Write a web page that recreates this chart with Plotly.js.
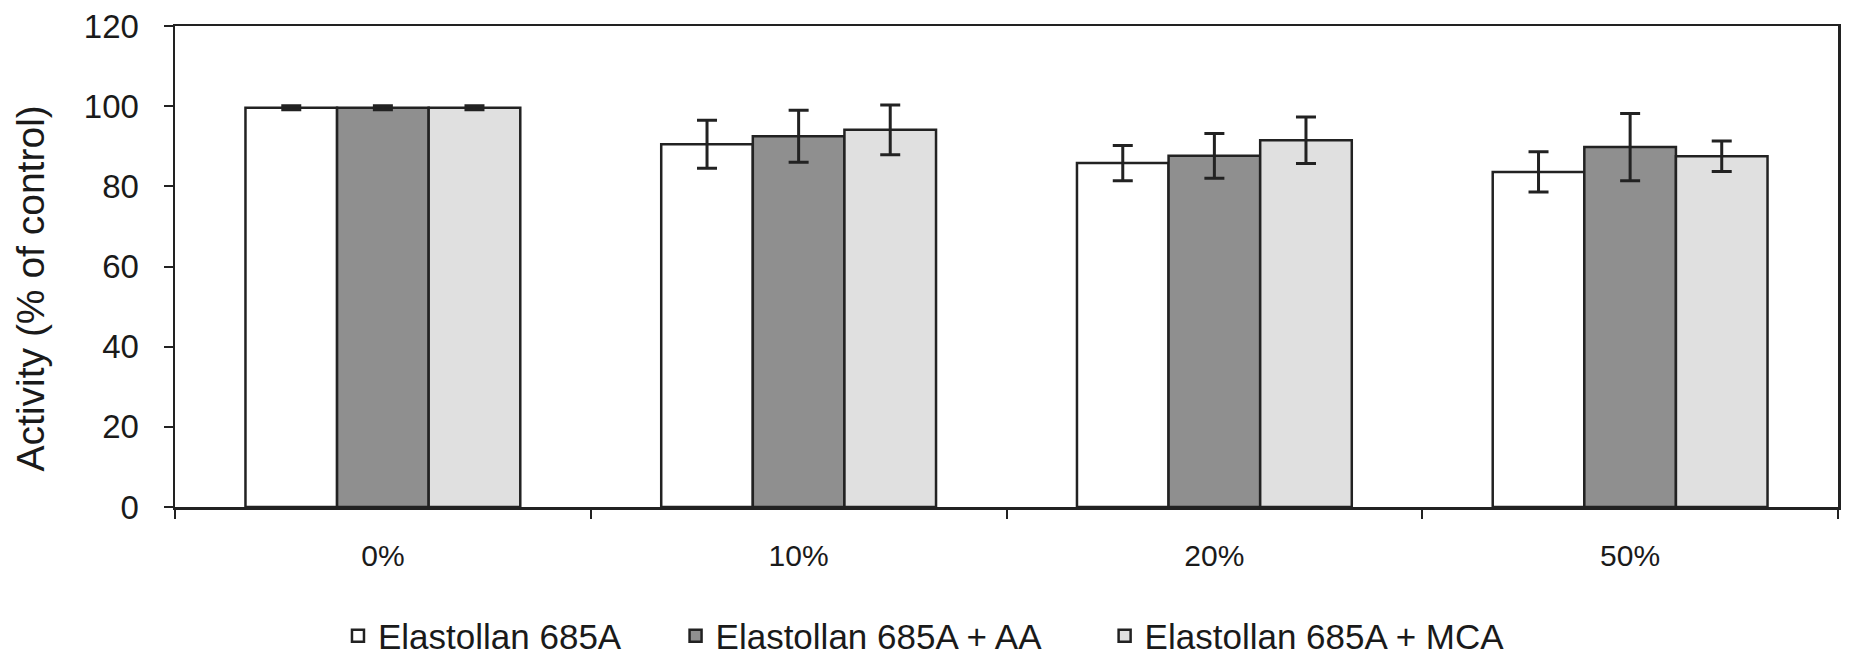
<!DOCTYPE html>
<html>
<head>
<meta charset="utf-8">
<script src="https://cdn.plot.ly/plotly-3.0.1.min.js"></script>
<style>html,body{margin:0;padding:0;background:#fff;}#chart{width:1849px;height:662px;}</style>
</head>
<body>
<div id="chart"></div>
<script>
const categories = ["0%", "10%", "20%", "50%"];
const seriesNames = ["Elastollan 685A", "Elastollan 685A + AA", "Elastollan 685A + MCA"];
const valuesPlain = [99.6, 90.5, 85.8, 83.6];
const errorsPlain = [0.5, 6.0, 4.4, 5.0];
const valuesAA = [99.6, 92.5, 87.6, 89.8];
const errorsAA = [0.5, 6.5, 5.6, 8.4];
const valuesMCA = [99.6, 94.1, 91.5, 87.5];
const errorsMCA = [0.5, 6.2, 5.8, 3.8];
const yTicks = [0, 20, 40, 60, 80, 100, 120];
const yTitle = "Activity (% of control)";

const fills = ["#ffffff", "#8f8f8f", "#e0e0e0"];
const vals = [valuesPlain, valuesAA, valuesMCA];
const errs = [errorsPlain, errorsAA, errorsMCA];
const legendIds = ["legend", "legend2", "legend3"];

const traces = seriesNames.map((name, i) => ({
  type: "bar",
  name: name,
  x: categories,
  y: vals[i],
  legend: legendIds[i],
  marker: {color: fills[i], line: {color: "#222222", width: 2.5}},
  error_y: {type: "data", array: errs[i], visible: true, color: "#222222", thickness: 3, width: 10}
}));

const legFont = {family: "Liberation Sans, Arial, sans-serif", size: 35, color: "#1a1a1a"};
const legBase = {orientation: "h", yanchor: "middle", y: -0.268, xanchor: "left", font: legFont, bgcolor: "rgba(0,0,0,0)", borderwidth: 0};

const layout = {
  width: 1849, height: 662,
  margin: {l: 175, r: 11, t: 26, b: 155, autoexpand: false},
  paper_bgcolor: "#ffffff", plot_bgcolor: "#ffffff",
  font: {family: "Liberation Sans, Arial, sans-serif", color: "#1a1a1a"},
  barmode: "group", bargap: 0.339, bargroupgap: 0,
  showlegend: true,
  legend: Object.assign({}, legBase, {x: 0.098}),
  legend2: Object.assign({}, legBase, {x: 0.301}),
  legend3: Object.assign({}, legBase, {x: 0.559}),
  xaxis: {
    type: "category", tickson: "boundaries", ticks: "outside", ticklen: 9, tickwidth: 2, tickcolor: "#222222",
    showline: true, linecolor: "#222222", linewidth: 2.5, mirror: true, showgrid: false, zeroline: false,
    tickfont: {size: 30, color: "#1a1a1a"}, ticklabelstandoff: 20
  },
  yaxis: {
    range: [0, 120], tickvals: yTicks, ticktext: yTicks.map(String), ticks: "outside", ticklen: 9, tickwidth: 2, tickcolor: "#222222",
    showline: true, linecolor: "#222222", linewidth: 2.5, mirror: true, showgrid: false, zeroline: false,
    tickfont: {size: 33, color: "#1a1a1a"}, ticklabelstandoff: 18
  },
  annotations: [{
    text: yTitle, xref: "paper", yref: "paper", x: -0.087, y: 0.455, xanchor: "center", yanchor: "middle",
    textangle: -90, showarrow: false, font: {size: 39, color: "#1a1a1a", family: "Liberation Sans, Arial, sans-serif"}
  }]
};

Plotly.newPlot("chart", traces, layout, {displayModeBar: false, staticPlot: true});
</script>
</body>
</html>
